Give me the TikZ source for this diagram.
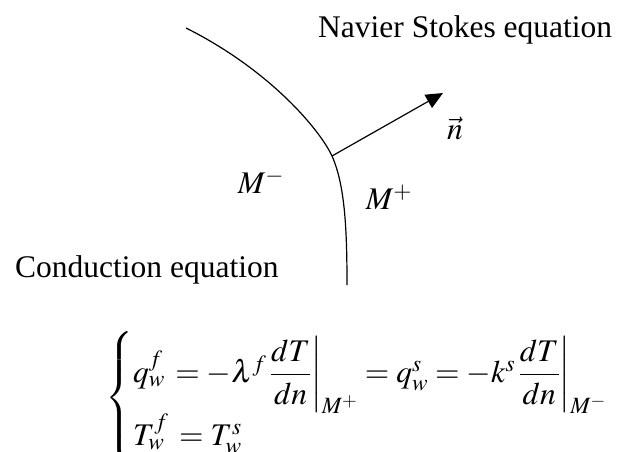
\documentclass[tikz,border=0pt]{standalone}
\usepackage{amsmath}
\usepackage{mathptmx}
\usepackage{fontspec}
\setmainfont{Liberation Serif}
\usepackage{tikz}
\usetikzlibrary{arrows.meta}

\begin{document}
\begin{tikzpicture}[
    x=1pt, y=-1pt,
    caption/.style={
      anchor=base west, inner sep=0pt,
      font=\fontsize{31.5}{38}\selectfont
    },
    side/.style={
      inner sep=0pt, font=\fontsize{31.5}{38}\selectfont
    },
    wall/.style={line width=1.2pt},
    arrow/.style={-{Triangle[length=17pt,width=15pt]}, line width=1.2pt},
  ]
  \useasboundingbox (0,0) rectangle (631,451);

  %% Interface
  \coordinate (top) at (186,28);
  \coordinate (foot) at (332,156);
  \coordinate (bottom) at (347,285);
  \draw[wall] (top) .. controls (270,70) and (320,130) .. (foot)
    .. controls (345,185) and (347,230) .. (bottom);

  %% Normal vector
  \coordinate (tip) at (443,93);
  \draw[arrow] (foot) -- (tip);
  \node[side] (normal) at (455,128) {$\vec{n}$};

  %% Sides of the interface
  \node[side] (minus) at (261,181) {$M^-$};
  \node[side] (plus) at (389,197) {$M^+$};

  %% Equations
  \node[caption] (fluid) at (318,37) {Navier Stokes equation};
  \node[caption] (solid) at (15,277) {Conduction equation};
  \node[side, anchor=west] (coupling) at (105,398)
    {$\thickmuskip=4mu\medmuskip=2mu\begin{cases}
      q_w^f\, = -\lambda^f\,\dfrac{dT}{dn}\biggr|_{M^+} = q_w^s = -k^s\,\dfrac{dT}{dn}\biggr|_{M^-}\\[0ex]
      T_w^f \,= T_w^s
    \end{cases}$};

\end{tikzpicture}
\end{document}
